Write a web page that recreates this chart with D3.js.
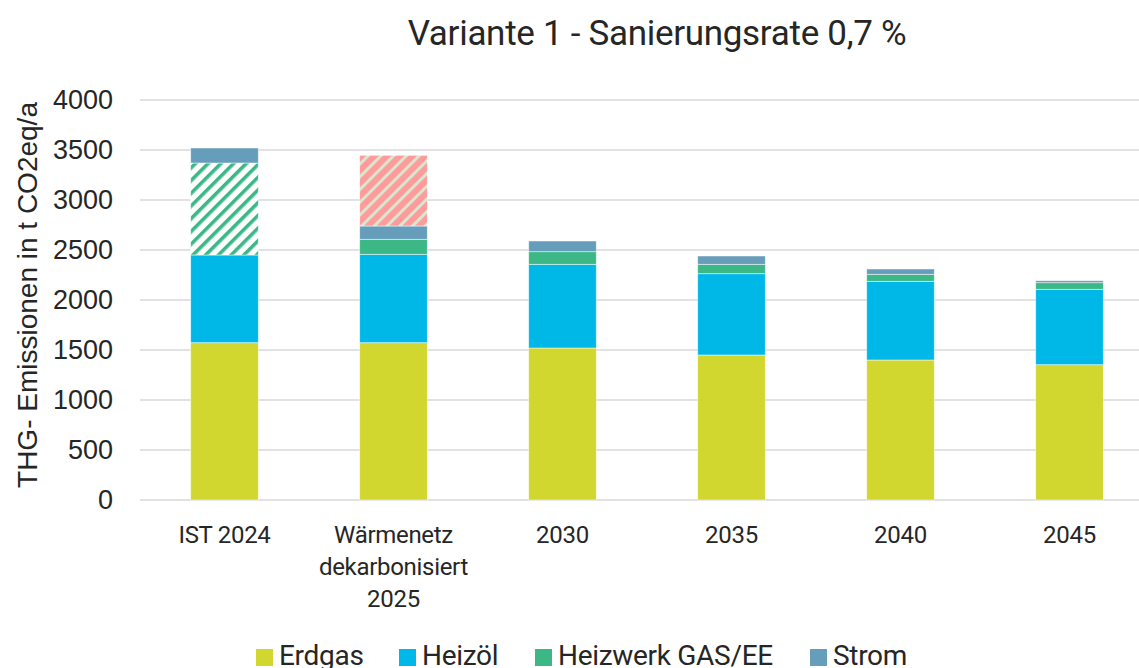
<!DOCTYPE html>
<html>
<head>
<meta charset="utf-8">
<script src="https://cdn.jsdelivr.net/npm/d3@7"></script>
<style>
  body { margin: 0; background: #fff; }
  text { fill: #262626; }
</style>
</head>
<body>
<script>
var svgWidth = 1139;
var svgHeight = 668;

// categories (multi-line labels)
var categories = ['IST 2024', 'Wärmenetz|dekarbonisiert|2025', '2030', '2035', '2040', '2045'];

// series values, bottom to top
var erdgas   = [1573, 1573, 1520, 1450, 1400, 1353];
var heizoel  = [877, 884, 837, 813, 787, 754];
var heizwerk = [0, 150, 126, 94, 70, 66];
var hatchGreen = [920, 0, 0, 0, 0, 0];
var strom    = [150, 133, 107, 83, 53, 20];
var hatchRed = [0, 707, 0, 0, 0, 0];

var yTicks = [0, 500, 1000, 1500, 2000, 2500, 3000, 3500, 4000];

var keys = ['Erdgas', 'Heizöl', 'Heizwerk GAS/EE', 'hatchGreen', 'Strom', 'hatchRed'];
var colors = {
  'Erdgas': '#d2d72f',
  'Heizöl': '#00b8e8',
  'Heizwerk GAS/EE': '#3bb886',
  'hatchGreen': 'url(#hatchGreen)',
  'Strom': '#659dbb',
  'hatchRed': 'url(#hatchRed)'
};
var legendKeys = ['Erdgas', 'Heizöl', 'Heizwerk GAS/EE', 'Strom'];

var rows = categories.map(function(c, i){
  return {cat: c, 'Erdgas': erdgas[i], 'Heizöl': heizoel[i], 'Heizwerk GAS/EE': heizwerk[i],
    'hatchGreen': hatchGreen[i], 'Strom': strom[i], 'hatchRed': hatchRed[i]};
});

var svg = d3.select('body').append('svg')
  .attr('width', svgWidth)
  .attr('height', svgHeight);

// hatch patterns
var defs = svg.append('defs');
var pg = defs.append('pattern').attr('id', 'hatchGreen')
  .attr('patternUnits', 'userSpaceOnUse')
  .attr('width', 9).attr('height', 9)
  .attr('patternTransform', 'rotate(45)');
pg.append('rect').attr('width', 9).attr('height', 9).attr('fill', '#fff');
pg.append('rect').attr('width', 3.6).attr('height', 9).attr('fill', '#3bb886');

var pr = defs.append('pattern').attr('id', 'hatchRed')
  .attr('patternUnits', 'userSpaceOnUse')
  .attr('width', 9).attr('height', 9)
  .attr('patternTransform', 'rotate(45)');
pr.append('rect').attr('width', 9).attr('height', 9).attr('fill', '#ff9b9b');
pr.append('rect').attr('width', 3).attr('height', 9).attr('fill', '#d9e6cf');

var x = d3.scaleBand().domain(categories).range([140, 1154]).paddingInner(0.6).paddingOuter(0.3);
var y = d3.scaleLinear().domain([0, 4000]).range([500, 100]);

// gridlines
svg.append('g').selectAll('line').data(yTicks).enter().append('line')
  .attr('x1', 140).attr('x2', svgWidth)
  .attr('y1', function(d){ return y(d); })
  .attr('y2', function(d){ return y(d); })
  .attr('stroke', '#d9d9d9')
  .attr('stroke-width', 1.5);

// y axis labels
var yAxis = svg.append('g').attr('transform', 'translate(113,0)')
  .call(d3.axisLeft(y).tickValues(yTicks).tickSize(0).tickPadding(0).tickFormat(d3.format('d')));
yAxis.select('.domain').remove();
yAxis.selectAll('text')
  .style('font-family', '"Liberation Sans", Arial, sans-serif')
  .style('font-size', '27px')
  .attr('fill', '#262626');

// stacked bars
var stack = d3.stack().keys(keys)(rows);
svg.append('g').selectAll('g').data(stack).enter().append('g')
  .attr('fill', function(d){ return colors[d.key]; })
  .selectAll('rect').data(function(d){ return d; }).enter().append('rect')
  .attr('x', function(d){ return x(d.data.cat); })
  .attr('width', x.bandwidth())
  .attr('y', function(d){ return y(d[1]); })
  .attr('height', function(d){ return y(d[0]) - y(d[1]); })
  .attr('stroke', function(d){ return d[1] > d[0] ? '#ffffff' : 'none'; })
  .attr('stroke-width', 0.8)
  .attr('stroke-opacity', 0.6);

// x labels
var xl = svg.append('g').selectAll('text').data(categories).enter().append('text')
  .attr('x', function(d){ return x(d) + x.bandwidth() / 2; })
  .attr('y', 543)
  .attr('text-anchor', 'middle')
  .style('font-family', 'Roboto, sans-serif')
  .style('font-size', '24px')
  .style('letter-spacing', '-0.3px');
xl.selectAll('tspan').data(function(d){ return d.split('|'); }).enter().append('tspan')
  .attr('x', function(){ var p = d3.select(this.parentNode).datum(); return x(p) + x.bandwidth() / 2; })
  .attr('dy', function(d, i){ return i === 0 ? 0 : 32; })
  .text(function(d){ return d; });

// title
svg.append('text')
  .attr('x', 657).attr('y', 45)
  .attr('text-anchor', 'middle')
  .style('font-family', 'Roboto, sans-serif')
  .style('font-size', '35px')
  .style('letter-spacing', '-0.3px')
  .text('Variante 1 - Sanierungsrate 0,7 %');

// y axis title
svg.append('text')
  .attr('transform', 'translate(37,295) rotate(-90)')
  .attr('text-anchor', 'middle')
  .style('font-family', '"Liberation Sans", Arial, sans-serif')
  .style('font-size', '28px')
  .text('THG- Emissionen in t CO2eq/a');

// legend
var legendX = [256, 399, 535, 810];
var lg = svg.append('g').selectAll('g').data(legendKeys).enter().append('g')
  .attr('transform', function(d, i){ return 'translate(' + legendX[i] + ',0)'; });
lg.append('rect')
  .attr('x', 0).attr('y', 649).attr('width', 17).attr('height', 17)
  .attr('fill', function(d){ return colors[d]; });
lg.append('text')
  .attr('x', 23).attr('y', 665)
  .style('font-family', 'Roboto, sans-serif')
  .style('font-size', '28px')
  .style('letter-spacing', '-0.3px')
  .text(function(d){ return d; });
</script>
</body>
</html>
